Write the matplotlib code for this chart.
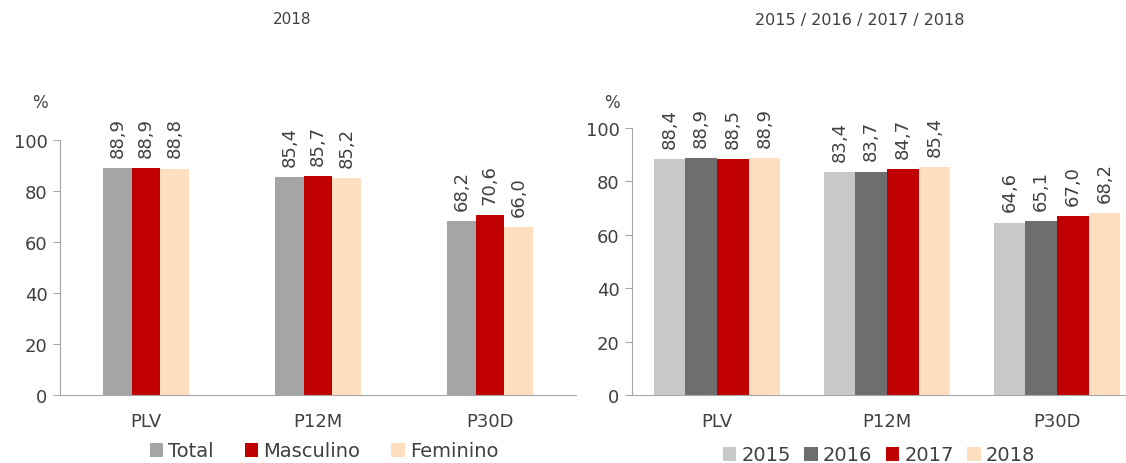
import numpy as np
import matplotlib.pyplot as plt

plt.rcParams['font.family'] = ['DejaVu Sans']

# dados
categorias = ['PLV', 'P12M', 'P30D']
sexo_series = ['Total', 'Masculino', 'Feminino']
sexo_valores = [
    [88.9, 85.4, 68.2],
    [88.9, 85.7, 70.6],
    [88.8, 85.2, 66.0],
]
anos_series = ['2015', '2016', '2017', '2018']
anos_valores = [
    [88.4, 83.4, 64.6],
    [88.9, 83.7, 65.1],
    [88.5, 84.7, 67.0],
    [88.9, 85.4, 68.2],
]
sexo_cores = ['#A5A5A5', '#C00000', '#FFDFC0']
anos_cores = ['#C8C8C8', '#6E6E6E', '#C00000', '#FFDFC0']

fig = plt.figure(figsize=(11.26, 4.64), dpi=100)
ax1 = fig.add_axes([60 / 1126, 68 / 464, 516 / 1126, 255 / 464])
ax2 = fig.add_axes([632 / 1126, 68 / 464, 510 / 1126, 267 / 464])

texto = '#404040'
eixo = '#A6A6A6'


def desenha(ax, series, valores, cores, largura):
    x = np.arange(len(categorias))
    n = len(series)
    for i, (nome, vals, cor) in enumerate(zip(series, valores, cores)):
        pos = x + (i - (n - 1) / 2) * largura
        bars = ax.bar(pos, vals, largura, color=cor, label=nome)
        for b, v in zip(bars, vals):
            ax.annotate(f'{v:.1f}'.replace('.', ','),
                        (b.get_x() + b.get_width() / 2, v),
                        xytext=(0, 8), textcoords='offset points',
                        rotation=90, ha='center', va='bottom',
                        fontsize=13, color=texto, annotation_clip=False)
    ax.set_xlim(-0.5, len(categorias) - 0.5)
    ax.set_ylim(0, 100)
    ax.set_yticks(range(0, 101, 20))
    ax.set_xticks(x)
    ax.set_xticklabels(categorias)
    for s in ['top', 'right']:
        ax.spines[s].set_visible(False)
    for s in ['left', 'bottom']:
        ax.spines[s].set_color(eixo)
    ax.tick_params(axis='x', length=0, pad=12, labelsize=13, labelcolor=texto)
    ax.tick_params(axis='y', length=5, color=eixo, labelsize=13,
                   labelcolor=texto, pad=4)


desenha(ax1, sexo_series, sexo_valores, sexo_cores, 0.166)
desenha(ax2, anos_series, anos_valores, anos_cores, 0.186)

fig.text(40 / 1126, 1 - 103 / 464, '%', ha='center', va='center',
         fontsize=12, color=texto)
fig.text(612 / 1126, 1 - 103 / 464, '%', ha='center', va='center',
         fontsize=12, color=texto)
fig.text(292 / 1126, 1 - 20 / 464, '2018', ha='center', va='center',
         fontsize=11, color=texto)
fig.text(860 / 1126, 1 - 20 / 464, '2015 / 2016 / 2017 / 2018',
         ha='center', va='center', fontsize=11.5, color=texto)

leg_kw = dict(ncol=4, frameon=False, handlelength=0.7, handleheight=0.7,
              handletextpad=0.25, fontsize=14, labelcolor=texto, loc='center')
ax1.legend(bbox_to_anchor=(324 / 1126, 12 / 464),
           bbox_transform=fig.transFigure, columnspacing=1.6, **leg_kw)
ax2.legend(bbox_to_anchor=(879 / 1126, 8 / 464),
           bbox_transform=fig.transFigure, columnspacing=0.7, **leg_kw)

fig.savefig('out.png', dpi=100)
